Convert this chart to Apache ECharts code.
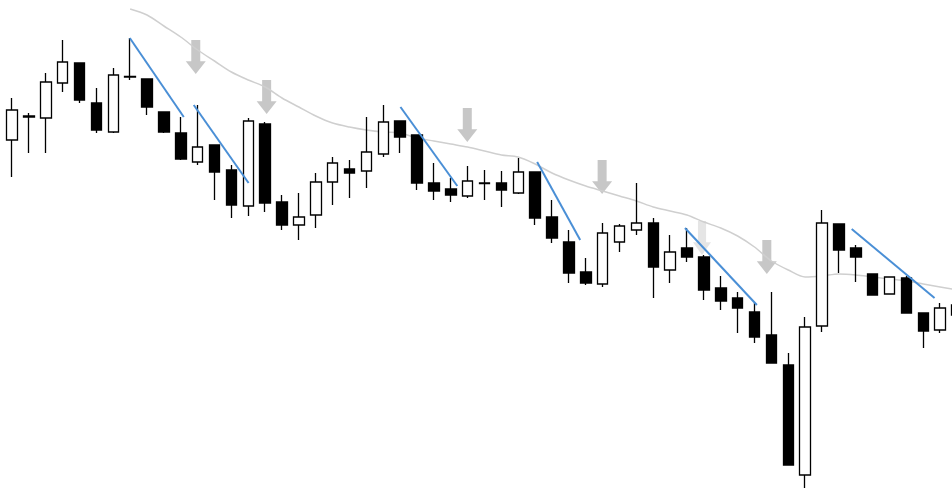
<!DOCTYPE html>
<html>
<head>
<meta charset="utf-8">
<script src="https://cdn.jsdelivr.net/npm/echarts@6/dist/echarts.min.js"></script>
<style>
  html, body { margin: 0; padding: 0; background: #ffffff; }
  #chart { width: 952px; height: 492px; }
</style>
</head>
<body>
<div id="chart"></div>
<script>
// Candles: [open, close, low, high]
const candles = [
  [136.0, 139.0, 132.3, 140.2],
  [138.4, 138.3, 134.7, 138.7],
  [138.2, 141.8, 134.7, 142.7],
  [141.7, 143.8, 140.8, 146.0],
  [143.7, 140.0, 139.7, 143.7],
  [139.7, 137.0, 136.7, 141.2],
  [136.8, 142.5, 136.7, 143.2],
  [142.35, 142.3, 142.0, 146.2],
  [142.1, 139.3, 138.5, 142.1],
  [138.8, 136.8, 136.7, 138.8],
  [136.7, 134.1, 134.0, 138.3],
  [133.8, 135.3, 133.5, 139.5],
  [135.5, 132.8, 130.0, 135.5],
  [133.0, 129.5, 128.2, 133.5],
  [129.4, 137.9, 128.4, 138.2],
  [137.6, 129.7, 128.8, 137.8],
  [129.8, 127.5, 127.0, 130.5],
  [127.5, 128.3, 126.0, 130.7],
  [128.5, 131.8, 127.2, 132.7],
  [131.8, 133.7, 129.5, 134.3],
  [133.1, 132.7, 130.2, 134.0],
  [132.9, 134.8, 131.2, 138.3],
  [134.6, 137.8, 134.3, 139.5],
  [137.9, 136.3, 134.7, 137.9],
  [136.5, 131.7, 131.0, 136.5],
  [131.7, 130.9, 130.0, 133.7],
  [131.1, 130.5, 129.8, 132.2],
  [130.4, 131.9, 130.2, 133.4],
  [131.65, 131.7, 130.0, 133.0],
  [131.7, 131.0, 129.3, 132.9],
  [130.7, 132.8, 130.6, 134.2],
  [132.8, 128.2, 127.5, 132.8],
  [128.3, 126.2, 125.7, 130.0],
  [125.8, 122.7, 121.7, 127.0],
  [122.8, 121.7, 121.5, 124.2],
  [121.6, 126.7, 121.3, 127.7],
  [125.8, 127.4, 124.8, 127.6],
  [127.0, 127.7, 126.5, 131.7],
  [127.7, 123.3, 120.2, 128.2],
  [123.0, 124.8, 121.7, 126.5],
  [125.2, 124.3, 123.8, 127.2],
  [124.3, 121.0, 120.0, 124.5],
  [121.2, 119.9, 119.0, 122.4],
  [120.2, 119.2, 116.7, 120.8],
  [118.8, 116.3, 115.7, 119.7],
  [116.5, 113.7, 113.7, 120.8],
  [113.5, 103.5, 103.5, 114.7],
  [102.5, 117.3, 101.2, 118.3],
  [117.4, 127.7, 116.8, 129.0],
  [127.6, 125.0, 122.7, 127.6],
  [125.2, 124.3, 121.8, 125.5],
  [122.6, 120.5, 120.5, 122.6],
  [120.6, 122.3, 120.6, 122.3],
  [122.2, 118.7, 118.7, 122.4],
  [118.7, 116.9, 115.2, 118.7],
  [117.0, 119.2, 116.7, 119.7],
  [118.5, 119.5, 118.3, 119.8]
];

// Moving average (starts at the 8th bar)
const maLine = [
  null, null, null, null, null, null, null,
  149.1, 148.5, 147.4, 146.3, 145.0, 143.9, 142.8, 142.0, 141.3, 140.2, 139.3,
  138.4, 137.7, 137.3, 137.0, 136.8, 136.7, 136.2, 135.9, 135.6, 135.3, 134.9,
  134.5, 134.3, 133.6, 132.7, 132.0, 131.4, 130.9, 130.4, 129.9, 129.3, 128.9,
  128.5, 127.8, 127.2, 126.4, 125.3, 123.9, 123.0, 122.3, 122.4, 122.6, 122.5,
  122.3, 122.1, 121.9, 121.6, 121.3, 121.0
];

// Down-sloping trendlines drawn across the swing highs: [startBar, startPrice, endBar, endPrice]
const trendLines = [
  [6.98, 146.2, 10.18, 138.3],
  [10.77, 139.5, 14.02, 131.7],
  [23.02, 139.3, 26.39, 131.4],
  [31.12, 133.8, 33.67, 126.0],
  [39.88, 127.2, 44.14, 119.5],
  [49.76, 127.1, 54.67, 120.2]
];

// Sell-signal arrows: [bar, price]
const arrows = [
  [10.89, 144.3],
  [15.09, 140.3],
  [26.98, 137.5],
  [34.97, 132.3],
  [44.73, 124.3]
];
const fadedArrows = [
  [40.89, 126.2]
];

const categories = candles.map((_, i) => String(i + 1));

const arrowPath = 'path://M5.5,0 H14.5 V22 H20 L10,35 L0,22 H5.5 Z';

const series = [
  {
    name: 'Arrows',
    type: 'scatter',
    xAxisIndex: 1,
    data: arrows,
    symbol: arrowPath,
    symbolSize: [20, 34],
    itemStyle: { color: '#b9b9b9' },
    silent: true,
    z: 1
  },
  {
    name: 'ArrowsFaded',
    type: 'scatter',
    xAxisIndex: 1,
    data: fadedArrows,
    symbol: arrowPath,
    symbolSize: [18, 34],
    itemStyle: { color: '#dedede' },
    silent: true,
    z: 1
  },
  {
    name: 'MA',
    type: 'line',
    xAxisIndex: 0,
    data: maLine,
    smooth: 0.3,
    showSymbol: false,
    lineStyle: { color: '#cfcfcf', width: 1.5 },
    silent: true,
    z: 2
  },
  {
    name: 'Price',
    type: 'candlestick',
    xAxisIndex: 0,
    data: candles,
    barWidth: 11,
    clip: true,
    itemStyle: {
      color: '#ffffff',
      color0: '#000000',
      borderColor: '#000000',
      borderColor0: '#000000',
      borderWidth: 1.3
    },
    z: 3
  }
];

trendLines.forEach((t, i) => {
  series.push({
    name: 'Trend' + (i + 1),
    type: 'line',
    xAxisIndex: 1,
    data: [[t[0], t[1]], [t[2], t[3]]],
    showSymbol: false,
    lineStyle: { color: '#4a8fd6', width: 2 },
    silent: true,
    z: 4
  });
});

const chart = echarts.init(document.getElementById('chart'), null, { renderer: 'canvas' });
chart.setOption({
  backgroundColor: '#ffffff',
  animation: false,
  grid: { left: 12, width: 945, top: 0, bottom: 0, outerBoundsMode: 'none', containLabel: false },
  xAxis: [
    {
      type: 'category',
      data: categories,
      boundaryGap: false,
      show: false
    },
    {
      type: 'value',
      min: 0,
      max: candles.length - 1,
      show: false
    }
  ],
  yAxis: {
    type: 'value',
    min: 100.8,
    max: 150,
    show: false,
    splitLine: { show: false }
  },
  series: series
});
</script>
</body>
</html>
